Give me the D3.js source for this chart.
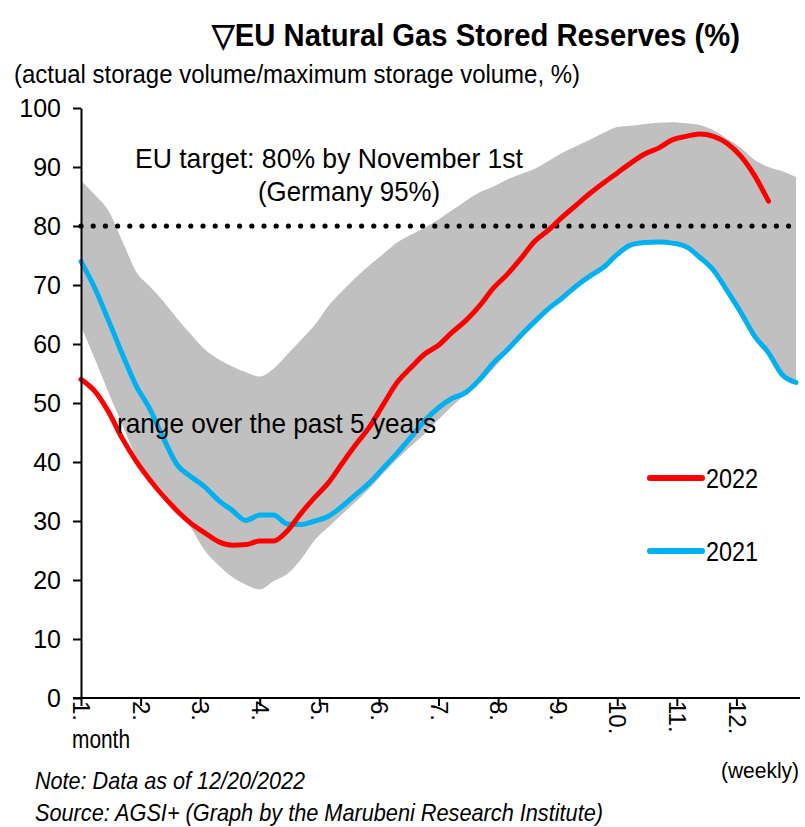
<!DOCTYPE html>
<html>
<head>
<meta charset="utf-8">
<script src="https://cdn.jsdelivr.net/npm/d3@7"></script>
<style>
  body { margin: 0; background: #fff; }
  svg text { font-family: "Liberation Sans Narrow", "Arial Narrow", "Liberation Sans", Arial, sans-serif; fill: #000; }
</style>
</head>
<body>
<script>
// weekly index 0..52 (week 0 = start of January)
const weeks = d3.range(0, 53);
const monthTicks = [1, 2, 3, 4, 5, 6, 7, 8, 9, 10, 11, 12];
const yTicks = [0, 10, 20, 30, 40, 50, 60, 70, 80, 90, 100];

// max / min of the past 5 years
const rangeHigh = [87.7, 85.3, 82.6, 77.5, 72.3, 69.8, 67.2, 64.3, 61.6, 59.1, 57.4, 56.2, 55.2, 54.5, 55.8,
  58.2, 60.7, 63.2, 66.5, 69.0, 71.3, 73.4, 75.3, 77.2, 78.5, 79.7, 81.1, 82.7, 84.3, 85.7, 86.7, 87.9, 88.8,
  89.7, 91.0, 92.4, 93.5, 94.6, 95.8, 96.8, 97.0, 97.3, 97.5, 97.6, 97.4, 97.1, 96.2, 94.8, 93.2, 91.2, 90.0,
  89.3, 88.3];
const rangeLow = [63.0, 57.5, 51.8, 46.3, 41.0, 37.5, 35.0, 32.0, 28.8, 25.0, 22.5, 20.5, 19.2, 18.4, 19.8,
  21.0, 23.5, 26.8, 29.0, 31.2, 33.3, 35.6, 38.1, 40.5, 42.7, 44.8, 47.2, 49.5, 51.5, 53.5, 55.8, 58.5, 61.0,
  63.5, 66.0, 67.8, 69.8, 71.5, 73.0, 75.2, 76.8, 77.2, 77.3, 77.1, 76.5, 74.7, 72.5, 69.0, 65.3, 61.3, 58.5,
  54.8, 53.5];
const s2021 = [74.0, 69.5, 64.0, 58.3, 53.0, 49.0, 44.0, 39.5, 37.5, 35.8, 33.5, 31.8, 30.1, 31.0, 31.0,
  29.5, 29.4, 30.0, 30.8, 32.5, 34.5, 36.5, 39.0, 41.5, 44.2, 47.0, 49.2, 50.8, 51.8, 54.0, 56.8, 59.0, 61.5,
  63.8, 66.0, 67.8, 69.8, 71.5, 73.0, 75.2, 76.8, 77.2, 77.3, 77.1, 76.5, 74.7, 72.5, 69.0, 65.3, 61.3, 58.5,
  54.8, 53.5];
const s2022 = [54.0, 52.0, 48.5, 44.0, 40.2, 37.0, 34.2, 31.7, 29.6, 28.0, 26.5, 25.9, 26.0, 26.6, 26.6,
  28.3, 31.3, 34.0, 36.5, 39.8, 43.0, 46.0, 49.8, 53.5, 56.0, 58.3, 59.8, 62.0, 64.0, 66.5, 69.5, 71.8, 74.5,
  77.4, 79.3, 81.5, 83.5, 85.5, 87.3, 89.0, 90.7, 92.2, 93.2, 94.6, 95.2, 95.6, 95.2, 94.0, 91.8, 88.5, 84.2];
const target = 80;

const W = 805, H = 827;
const svg = d3.select("body").append("svg").attr("width", W).attr("height", H);

const x = d3.scaleLinear().domain([1, 13]).range([81, 796]);
const y = d3.scaleLinear().domain([0, 100]).range([698, 108]);
const wx = w => x(1 + w * 12 / 52);

// narrow-looking text: squeeze to the width seen in the original
function label(tx, ty, str, size, width, opts = {}) {
  const t = svg.append("text").attr("x", tx).attr("y", ty)
    .style("font-size", size + "px").text(str);
  if (width) t.attr("textLength", width).attr("lengthAdjust", "spacingAndGlyphs");
  if (opts.bold) t.style("font-weight", "bold");
  if (opts.italic) t.style("font-style", "italic");
  return t;
}

// title + subtitle
label(212, 46, "▽EU Natural Gas Stored Reserves (%)", 32, 528, { bold: true });
label(14, 83, "(actual storage volume/maximum storage volume, %)", 26, 566);

// range band
const area = d3.area()
  .x((d, i) => wx(weeks[i]))
  .y0((d, i) => y(rangeLow[i]))
  .y1((d, i) => y(rangeHigh[i]))
  .curve(d3.curveMonotoneX);
svg.append("path").datum(rangeHigh).attr("d", area).attr("fill", "#c0c0c0");

// dotted target line
const dots = d3.range(x(1), x(13) + 1, 12.2);
svg.append("g").selectAll("circle").data(dots).join("circle")
  .attr("cx", d => d).attr("cy", y(target)).attr("r", 2.6).attr("fill", "#000");

// series lines
const line = d3.line().x((d, i) => wx(weeks[i])).y(d => y(d)).curve(d3.curveMonotoneX);
svg.append("path").datum(s2021).attr("d", line)
  .attr("fill", "none").attr("stroke", "#00b0f0").attr("stroke-width", 5)
  .attr("stroke-linecap", "round").attr("stroke-linejoin", "round");
svg.append("path").datum(s2022).attr("d", line)
  .attr("fill", "none").attr("stroke", "#ff0000").attr("stroke-width", 5)
  .attr("stroke-linecap", "round").attr("stroke-linejoin", "round");

// axes
const yAxis = svg.append("g").attr("transform", `translate(${x(1)},0)`)
  .call(d3.axisLeft(y).tickValues(yTicks).tickSize(8).tickPadding(12).tickSizeOuter(0));
yAxis.selectAll("text").style("font-size", "25px").style("font-family", "'Liberation Sans', Arial, sans-serif");

const xAxis = svg.append("g").attr("transform", `translate(0,${y(0)})`)
  .call(d3.axisBottom(x).tickValues(monthTicks).tickSize(8).tickSizeOuter(0).tickFormat(d => d + "."));
xAxis.select(".domain").attr("d", `M${x(1) - 8},0H${x(13) + 4}`);
xAxis.selectAll("text")
  .style("font-size", "24px").style("font-family", "'Liberation Sans', Arial, sans-serif")
  .attr("text-anchor", "start")
  .attr("transform", "rotate(90)")
  .attr("x", 3).attr("y", 0).attr("dy", "0.35em");
svg.selectAll(".domain, .tick line").attr("stroke", "#000").attr("stroke-width", 2);

// annotations
label(135, 168, "EU target: 80% by November 1st", 28, 388);
label(258, 201, "(Germany 95%)", 28, 182);
label(117, 433, "range over the past 5 years", 28, 319);

// legend
const legend = [{ name: "2022", color: "#ff0000", yy: 478 }, { name: "2021", color: "#00b0f0", yy: 551 }];
legend.forEach(l => {
  svg.append("line").attr("x1", 650).attr("x2", 702).attr("y1", l.yy).attr("y2", l.yy)
    .attr("stroke", l.color).attr("stroke-width", 6).attr("stroke-linecap", "round");
  label(706, l.yy + 10, l.name, 28, 52);
});

label(72, 748, "month", 25, 58);
label(721, 778, "(weekly)", 22, 78);
label(35, 789, "Note: Data as of 12/20/2022", 24, 270, { italic: true });
label(35, 821, "Source: AGSI+ (Graph by the Marubeni Research Institute)", 24, 568, { italic: true });
</script>
</body>
</html>
